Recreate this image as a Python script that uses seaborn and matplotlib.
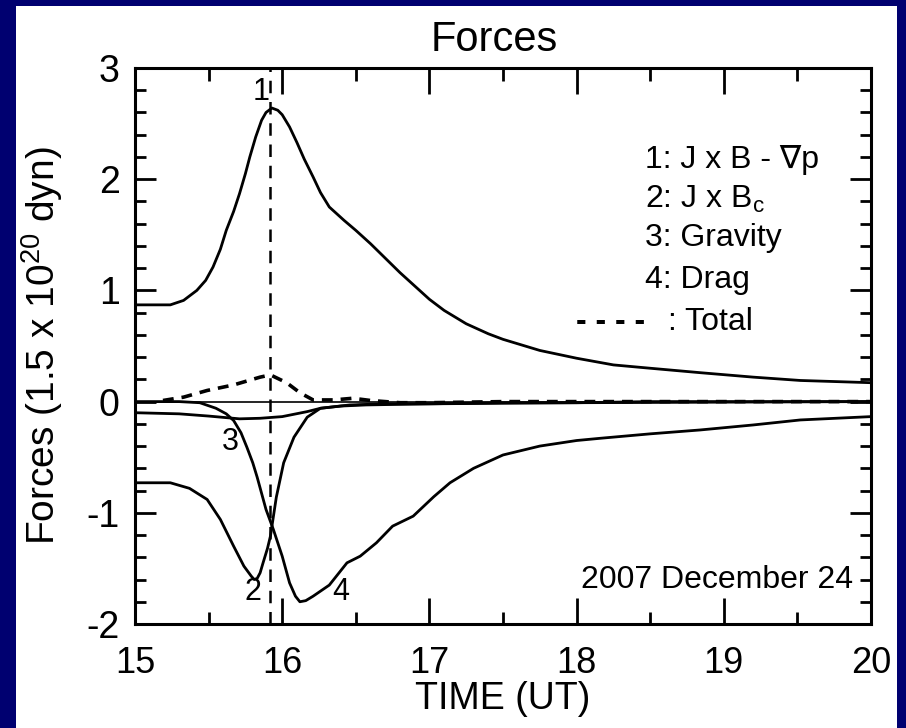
import matplotlib
matplotlib.use("Agg")
import matplotlib.pyplot as plt
import seaborn as sns
from matplotlib.patches import Rectangle
from matplotlib.ticker import MultipleLocator

# ---- data ----
t_jxb = [15.0, 15.24, 15.33, 15.42, 15.48, 15.53, 15.58, 15.62, 15.67, 15.71, 15.75,
         15.78, 15.82, 15.86, 15.89, 15.93, 15.97, 16.0, 16.05, 16.1, 16.15, 16.21,
         16.26, 16.32, 16.42, 16.5, 16.6, 16.7, 16.8, 16.9, 17.0, 17.1, 17.25, 17.4,
         17.5, 17.75, 18.0, 18.25, 18.5, 18.84, 19.2, 19.52, 20.0]
f_jxb = [0.87, 0.87, 0.91, 1.0, 1.09, 1.21, 1.37, 1.54, 1.71, 1.87, 2.05,
         2.2, 2.38, 2.53, 2.60, 2.64, 2.62, 2.58, 2.47, 2.33, 2.18, 2.02,
         1.88, 1.75, 1.63, 1.54, 1.42, 1.29, 1.16, 1.04, 0.92, 0.82, 0.70, 0.61,
         0.56, 0.46, 0.39, 0.33, 0.30, 0.26, 0.22, 0.19, 0.17]

t_jxbc = [15.0, 15.24, 15.37, 15.49, 15.58, 15.67, 15.74, 15.79, 15.81, 15.83, 15.85,
          15.87, 15.9, 15.92, 15.96, 16.01, 16.08, 16.17, 16.26, 16.46, 16.7, 17.0,
          17.5, 18.0, 18.5, 19.0, 19.5, 20.0]
f_jxbc = [-0.73, -0.73, -0.78, -0.88, -1.06, -1.30, -1.48, -1.57, -1.60, -1.59, -1.54,
          -1.45, -1.32, -1.21, -0.86, -0.55, -0.32, -0.14, -0.06, -0.03, -0.02, -0.02,
          -0.01, -0.01, 0.0, 0.0, 0.0, 0.0]

t_grav = [15.0, 15.3, 15.5, 15.71, 15.85, 16.0, 16.17, 16.26, 16.4, 16.57, 17.0,
          17.5, 18.0, 19.0, 20.0]
f_grav = [-0.10, -0.11, -0.13, -0.155, -0.15, -0.135, -0.09, -0.06, -0.04, -0.03, -0.02,
          -0.015, -0.01, -0.005, 0.0]

t_drag = [15.0, 15.3, 15.44, 15.55, 15.62, 15.67, 15.72, 15.76, 15.8, 15.83, 15.89,
          15.94, 16.0, 16.05, 16.09, 16.12, 16.16, 16.21, 16.32, 16.44, 16.53, 16.64,
          16.75, 16.89, 17.03, 17.14, 17.3, 17.5, 17.75, 18.0, 18.16, 18.5, 18.84,
          19.2, 19.52, 20.0]
f_drag = [0.0, 0.0, -0.01, -0.06, -0.11, -0.17, -0.28, -0.41, -0.55, -0.68, -0.97,
          -1.15, -1.39, -1.63, -1.75, -1.80, -1.79, -1.75, -1.65, -1.45, -1.39, -1.27,
          -1.12, -1.03, -0.855, -0.73, -0.60, -0.48, -0.40, -0.35, -0.33, -0.29, -0.255,
          -0.21, -0.165, -0.135]

t_total = [15.19, 15.33, 15.49, 15.67, 15.85, 15.92, 16.03, 16.12, 16.21, 16.35, 16.48,
           16.6, 16.8, 17.0, 17.5, 18.0, 19.0, 20.0]
f_total = [0.01, 0.04, 0.10, 0.15, 0.22, 0.24, 0.17, 0.08, 0.015, 0.015, 0.03,
           0.01, -0.01, -0.01, 0.0, 0.0, 0.0, 0.0]

t_peak = 15.92
x_ticks = [15, 16, 17, 18, 19, 20]
y_ticks = [-2, -1, 0, 1, 2, 3]
legend_labels = ["1: J x B - \u2207p", r"2: J x B$_\mathregular{c}$", "3: Gravity", "4: Drag"]
curve_ids = ["1", "2", "3", "4"]
curve_id_pos = [(15.86, 2.78), (15.80, -1.71), (15.645, -0.36), (16.40, -1.71)]

# ---- style ----
sns.set_style("ticks")
plt.rcParams['font.family'] = ['Liberation Sans', 'DejaVu Sans']
plt.rcParams['mathtext.fontset'] = 'custom'
plt.rcParams['mathtext.rm'] = 'Liberation Sans'
plt.rcParams['axes.unicode_minus'] = False
plt.rcParams['text.color'] = 'black'
plt.rcParams['axes.labelcolor'] = 'black'
plt.rcParams['xtick.color'] = 'black'
plt.rcParams['ytick.color'] = 'black'

W, H = 906, 728
fig = plt.figure(figsize=(W / 100, H / 100), dpi=100)
fig.patch.set_facecolor('#000070')
fig.patches.append(Rectangle((16 / W, 0), (897 - 16) / W, 1 - 6 / H,
                             transform=fig.transFigure, facecolor='white',
                             edgecolor='none', zorder=-10))

ax = fig.add_axes([135 / W, 1 - 624 / H, (871 - 135) / W, (624 - 68) / H])
ax.set_facecolor('white')

lw = 2.0
for t, f in [(t_jxb, f_jxb), (t_jxbc, f_jxbc), (t_grav, f_grav), (t_drag, f_drag)]:
    sns.lineplot(x=t, y=f, ax=ax, color='black', lw=lw, sort=False)
sns.lineplot(x=t_total, y=f_total, ax=ax, color='black', lw=2.6, sort=False,
             linestyle=(0, (3, 2.2)))

ax.axhline(0, color='black', lw=1.2)
ax.axvline(t_peak, color='black', lw=1.8, linestyle=(0, (5, 3.5)))

ax.set_xlim(15, 20)
ax.set_ylim(-2, 3)
ax.set_xticks(x_ticks)
ax.set_yticks(y_ticks)
ax.xaxis.set_minor_locator(MultipleLocator(0.5))
ax.yaxis.set_minor_locator(MultipleLocator(0.2))
ax.tick_params(axis='both', which='both', direction='in', top=True, right=True,
               color='black', width=2)
ax.tick_params(axis='x', which='major', length=19, pad=16, labelsize=26)
ax.tick_params(axis='x', which='minor', length=9)
ax.tick_params(axis='y', which='major', length=15, pad=11, labelsize=27)
ax.tick_params(axis='y', which='minor', length=8)
for s in ax.spines.values():
    s.set_linewidth(2.2)
    s.set_color('black')

ax.set_xlabel("TIME (UT)", fontsize=27, va='center')
ax.xaxis.set_label_coords(0.5, (624 - 699) / 556)
ax.set_ylabel(r"Forces (1.5 x 10$^{\mathregular{20}}$ dyn)", fontsize=28, va='center')
ax.yaxis.set_label_coords((42 - 135) / 736, 0.5)

fig.text(494 / W, 1 - 40 / H, "Forces", fontsize=30, ha='center', va='center')

# curve labels
for cid, (tx, ty) in zip(curve_ids, curve_id_pos):
    ax.text(tx, ty, cid, fontsize=22, ha='center', va='center')

# legend-like text
ys = [160, 199, 238, 280]
for lab, py in zip(legend_labels, ys):
    ax.text((645 - 135) / 736, (624 - py) / 556, lab, transform=ax.transAxes,
            fontsize=23, ha='left', va='center')
ax.text((668 - 135) / 736, (624 - 322) / 556, ": Total", transform=ax.transAxes,
        fontsize=23, ha='left', va='center')
ax.text((645 - 135) / 736, (624 - 322) / 556, "- - - -", transform=ax.transAxes,
        fontsize=23, ha='right', va='center', fontweight='bold')

ax.text((853 - 135) / 736, (624 - 580) / 556, "2007 December 24", transform=ax.transAxes,
        fontsize=23, ha='right', va='center')

fig.savefig("out.png", dpi=100, facecolor=fig.get_facecolor())
